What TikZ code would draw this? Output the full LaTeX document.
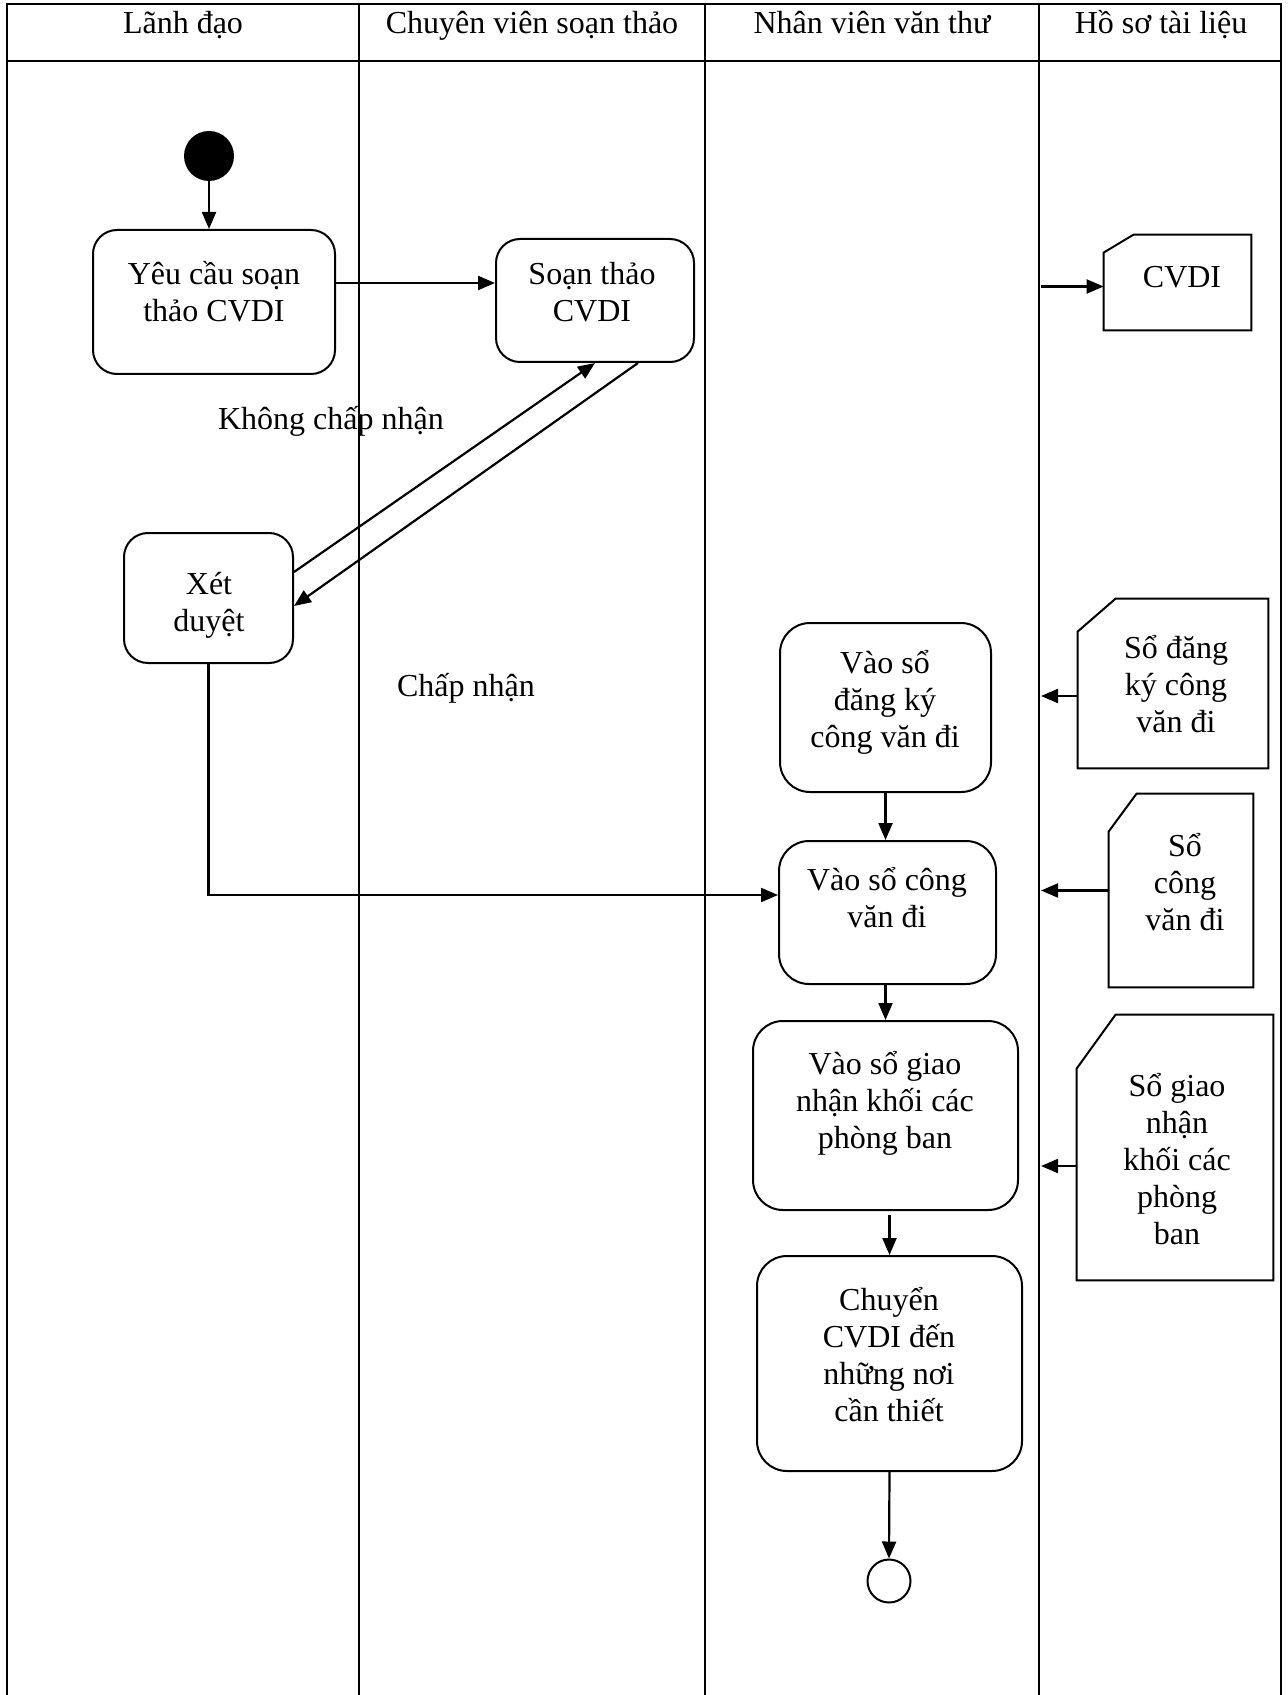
\documentclass[tikz,border=0pt]{standalone}
\usepackage{fontspec}
\setmainfont{Liberation Serif}
\usetikzlibrary{arrows.meta,fit}
\begin{document}
\begin{tikzpicture}[x=0.5pt,y=-0.5pt,
  lane/.style={line width=1.15pt},
  act/.style={draw,line width=1pt,rounded corners=12pt,inner sep=0pt},
  bigact/.style={act,rounded corners=15pt},
  docbox/.style={inner sep=0pt},
  docline/.style={line width=1pt,line join=miter},
  lbl/.style={align=center,font=\fontsize{16}{18.5}\selectfont,inner sep=0pt},
  head/.style={lbl,anchor=base},
  flow/.style={line width=1.1pt,-{Triangle[length=8.5pt,width=7pt]}}]
\useasboundingbox (0,0) rectangle (1288,1695);

% swimlane frame and dividers
\draw[lane] (7,1695) -- (7,4) -- (1281,4) -- (1281,1695);
\draw[lane] (7,61) -- (1281,61);
\foreach \x in {359,705,1039} \draw[lane] (\x,4) -- (\x,1695);
\coordinate (docedge) at (1041,0);

% lane headings
\node[head] (h1) at (183,34) {Lãnh đạo};
\node[head] (h2) at (532,34) {Chuyên viên soạn thảo};
\node[head] (h3) at (872,34) {Nhân viên văn thư};
\node[head] (h4) at (1161,34) {Hồ sơ tài liệu};

% start and end states
\node[circle,fill,minimum size=25pt,inner sep=0pt] (start) at (209,156) {};
\node[circle,draw,line width=1pt,minimum size=21.5pt,inner sep=0pt] (stop) at (889,1581) {};

% activities
\node[act,fit={(93,230) (335,374)}] (yeu) {};
\node[act,fit={(496,239) (694,362)}] (soan) {};
\node[act,fit={(124,533) (293,663)}] (xet) {};
\node[bigact,fit={(780,623) (991,792)}] (dangky) {};
\node[bigact,fit={(779,841) (996,984)}] (congvan) {};
\node[bigact,fit={(753,1021) (1018,1210)}] (giaonhan) {};
\node[bigact,fit={(757,1256) (1022,1471)}] (chuyen) {};

\node[lbl] (tyeu) at (214,292) {Yêu cầu soạn\\thảo CVDI};
\node[lbl] (tsoan) at (592,292) {Soạn thảo\\CVDI};
\node[lbl] (txet) at (209,605) {Xét\\duyệt};
\node[lbl] (tdangky) at (885,702) {Vào sổ\\đăng ký\\công văn đi};
\node[lbl] (tcongvan) at (887,898) {Vào sổ công\\văn đi};
\node[lbl] (tgiaonhan) at (885,1103) {Vào sổ giao\\nhận khối các\\phòng ban};
\node[lbl] (tchuyen) at (889,1355) {Chuyển\\CVDI đến\\những nơi\\cần thiết};

% documents
\node[docbox,fit={(1104,235) (1251,330)}] (dcvdi) {};
\node[docbox,fit={(1078,599) (1268,768)}] (ddk) {};
\node[docbox,fit={(1109,794) (1253,987)}] (dcv) {};
\node[docbox,fit={(1077,1015) (1273,1280)}] (dgn) {};
\foreach \n/\cx/\cy in {dcvdi/15/9, ddk/19/16.5, dcv/14/19, dgn/19.5/27}
  \draw[docline] (\n.south west) -- ([yshift=-\cy pt]\n.north west)
    -- ([xshift=\cx pt]\n.north west) -- (\n.north east) -- (\n.south east) -- cycle;

\node[lbl] (tdcvdi) at (1182,277) {CVDI};
\node[lbl] (tddk) at (1176,684) {Sổ đăng\\ký công\\văn đi};
\node[lbl] (tdcv) at (1185,882) {Sổ\\công\\văn đi};
\node[lbl] (tdgn) at (1177,1159) {Sổ giao\\nhận\\khối các\\phòng\\ban};

% guard labels
\node[lbl] (reject) at (331,421) {Không chấp nhận};
\node[lbl] (accept) at (466,688) {Chấp nhận};

% control flow
\draw[flow] (start.south) -- (start.south |- yeu.north);
\draw[flow] ([yshift=9.5pt]yeu.east) -- ([yshift=9.5pt]yeu.east -| soan.west);
\draw[flow] ([yshift=13pt]xet.east) -- (soan.south);
\draw[flow] ([xshift=21.5pt]soan.south) -- ([yshift=-4pt]xet.east);
\draw[flow] (xet.south) |- ([yshift=8.75pt]congvan.west);
\draw[flow] (dangky.south) -- (dangky.south |- congvan.north);
\draw[flow] (giaonhan.north |- congvan.south) -- (giaonhan.north);
\draw[flow] ([yshift=-2pt]chuyen.north |- giaonhan.south) -- (chuyen.north);
\draw[flow] (chuyen.south) -- (stop.north);

% document links
\draw[flow] ([yshift=-2pt]dcvdi.west -| docedge) -- ([yshift=-2pt]dcvdi.west);
\draw[flow] ([yshift=-6.25pt]ddk.west) -- ([yshift=-6.25pt]ddk.west -| docedge);
\draw[flow] (dcv.west) -- (dcv.west -| docedge);
\draw[flow] ([yshift=-9.25pt]dgn.west) -- ([yshift=-9.25pt]dgn.west -| docedge);
\end{tikzpicture}
\end{document}
